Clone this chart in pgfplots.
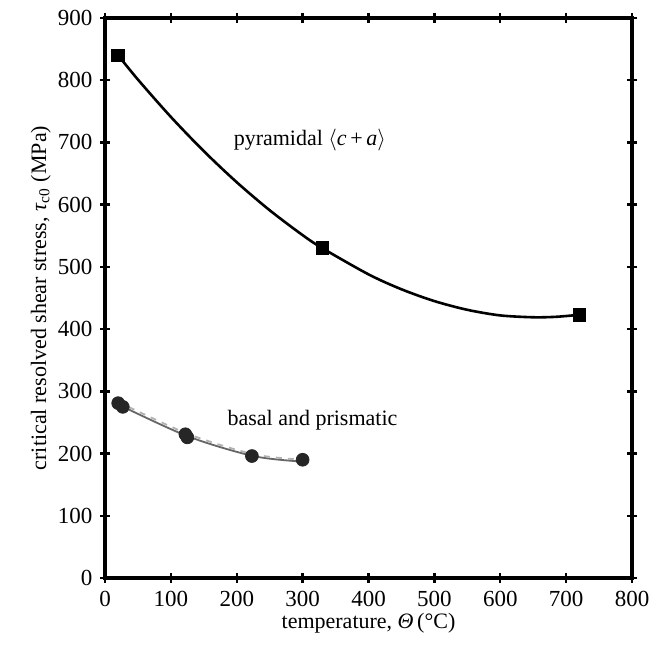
\documentclass[border=0pt]{standalone}
\usepackage{pgfplots}
\pgfplotsset{compat=1.18}
\usepackage{fontspec}
\setmainfont{Liberation Serif}

\begin{document}
\fontsize{11}{13}\selectfont
\begin{tikzpicture}
	\begin{axis}[
			scale only axis,
			width=263.5pt,
			height=280pt,
			xmin=0, xmax=800,
			ymin=0, ymax=900,
			xtick={0,100,...,800},
			ytick={0,100,...,900},
			tick align=center,
			major tick length=5pt,
			axis line style={line width=1.7pt},
			every tick/.style={line width=1.2pt, black},
			/pgf/number format/assume math mode=true,
			xlabel={temperature, \textit{Θ}\,(°C)},
			ylabel={critical resolved shear stress, \textit{τ}\textsubscript{c0} (MPa)},
			xlabel style={yshift=4pt},
			ylabel style={yshift=-4pt},
			tick label style={font=\fontsize{11.5}{13}\selectfont},
			label style={font=\fontsize{11}{13}\selectfont},
			clip=false,
		]

		% pyramidal <c+a>: curve
		\addplot[black, line width=1.3pt, smooth] coordinates {
				(20,840) (50,801) (100,741) (150,686) (200,636) (250,591) (300,551)
				(330,530) (400,488) (450,464) (500,445) (550,431) (600,422)
				(650,419) (680,419.5) (700,421) (720,423)
			};
		\addplot[only marks, mark=square*, mark size=3.2pt, black] coordinates {
				(20,840) (330,530) (720,423)
			};

		% basal and prismatic
		\addplot[gray!80!black, line width=0.9pt, smooth] coordinates {
				(20,279) (125,228) (225,196) (300,187)
			};
		\addplot[gray!60, line width=0.9pt, dashed, smooth] coordinates {
				(20,283) (125,232) (225,199) (300,190)
			};
		\addplot[only marks, mark=*, mark size=3.2pt, black!85] coordinates {
				(20,281) (27,275) (122,231) (125,226) (223,196) (300,190)
			};

		\node at (axis cs:311,704) {pyramidal $\langle$\textit{c}\,+\,\textit{a}$\rangle$};
		\node at (axis cs:315,254) {basal and prismatic};
	\end{axis}
	\pgfresetboundingbox
	\path (current axis.south west) ++(-52.5pt,-33.5pt) coordinate (bl);
	\path (current axis.north east) ++(10pt,9pt) coordinate (tr);
	\useasboundingbox (bl) rectangle (tr);
\end{tikzpicture}
\end{document}
